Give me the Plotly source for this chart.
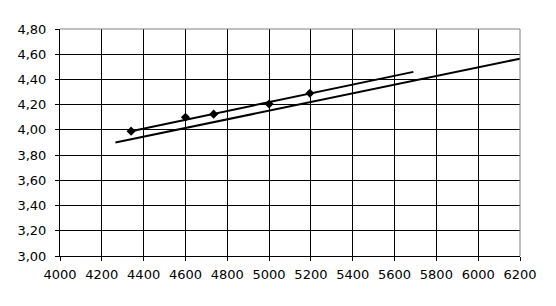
import plotly.graph_objects as go

x_points = [4340, 4600, 4735, 5000, 5195]
y_points = [3.99, 4.10, 4.125, 4.205, 4.29]
trend1_x = [4340, 5690]
trend1_y = [3.99, 4.46]
trend2_x = [4265, 6200]
trend2_y = [3.90, 4.565]

x_ticks = list(range(4000, 6201, 200))
y_ticks = [3.0, 3.2, 3.4, 3.6, 3.8, 4.0, 4.2, 4.4, 4.6, 4.8]

fig = go.Figure()
fig.add_trace(go.Scatter(x=trend2_x, y=trend2_y, mode="lines",
                         line=dict(color="black", width=2), showlegend=False))
fig.add_trace(go.Scatter(x=trend1_x, y=trend1_y, mode="lines",
                         line=dict(color="black", width=2), showlegend=False))
fig.add_trace(go.Scatter(x=x_points, y=y_points, mode="markers",
                         marker=dict(symbol="diamond", size=7, color="black"),
                         showlegend=False))

font = dict(family="DejaVu Sans, sans-serif", size=13, color="black")
fig.update_layout(
    width=556, height=306,
    margin=dict(l=60, r=36, t=29, b=50),
    paper_bgcolor="white", plot_bgcolor="white",
    separators=",.",
    font=font,
    xaxis=dict(range=[4000, 6200], tickvals=x_ticks, tickformat="d",
               showgrid=True, gridcolor="black", gridwidth=1,
               showline=True, linecolor="black", linewidth=1,
               ticks="outside", ticklen=4, tickcolor="black", zeroline=False,
               ticklabelstandoff=2),
    yaxis=dict(range=[3.0, 4.8], tickvals=y_ticks, tickformat=".2f",
               showgrid=True, gridcolor="black", gridwidth=1,
               showline=True, linecolor="black", linewidth=1,
               ticks="outside", ticklen=4, tickcolor="black", zeroline=False,
               ticklabelstandoff=6),
)
fig.add_shape(type="line", xref="paper", yref="paper", x0=0, x1=1, y0=1, y1=1,
              line=dict(color="#808080", width=1), layer="above")
fig.add_shape(type="line", xref="paper", yref="paper", x0=1, x1=1, y0=0, y1=1,
              line=dict(color="#808080", width=1), layer="above")
fig.write_html("out.html")
